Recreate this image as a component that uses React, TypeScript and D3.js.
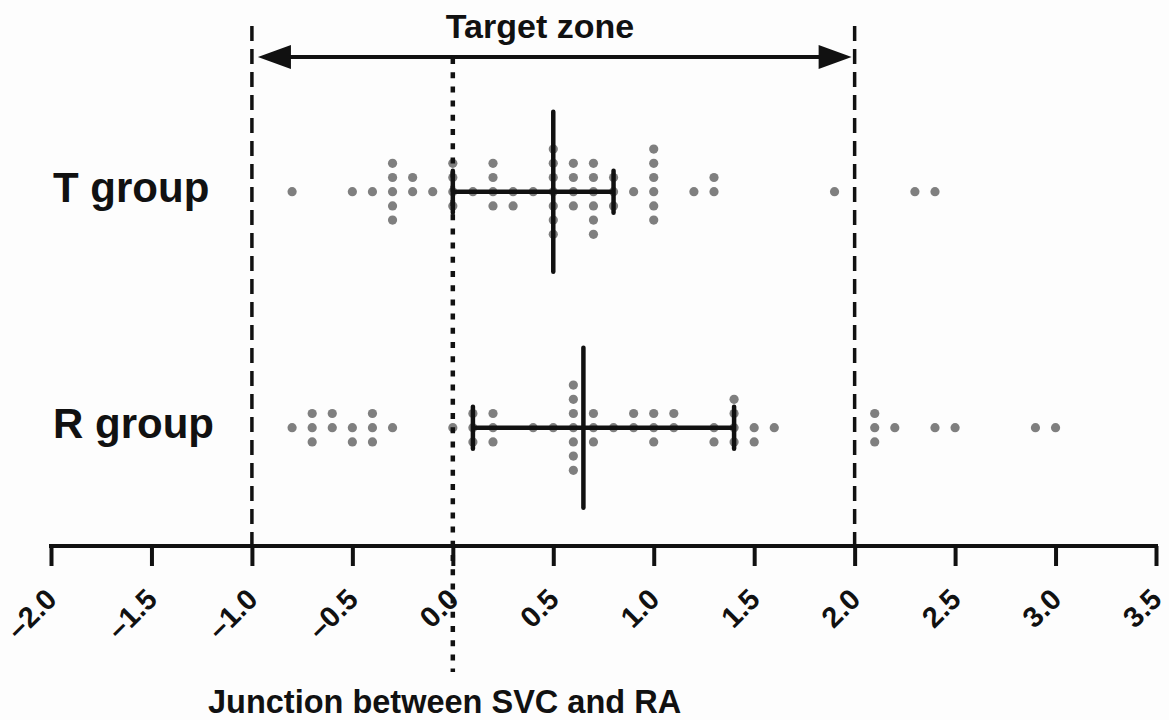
import React, { useRef, useEffect } from 'react';
import * as d3 from 'd3';

// dot values per group (value -> number of patients at that value)
const tValues = [-0.8, -0.5, -0.4, -0.3, -0.2, -0.1, 0, 0.1, 0.2, 0.3, 0.4, 0.5, 0.6, 0.7, 0.8, 0.9, 1.0, 1.2, 1.3, 1.9, 2.3, 2.4];
const tCounts = [1, 1, 1, 5, 2, 1, 4, 1, 4, 2, 1, 7, 4, 6, 3, 1, 6, 1, 2, 1, 1, 1];
const tStackDown = [0.3, 0.7];

const rValues = [-0.8, -0.7, -0.6, -0.5, -0.4, -0.3, 0, 0.1, 0.2, 0.4, 0.5, 0.6, 0.7, 0.8, 0.9, 1.0, 1.1, 1.3, 1.4, 1.5, 1.6, 2.1, 2.2, 2.4, 2.5, 2.9, 3.0];
const rCounts = [1, 3, 2, 2, 3, 1, 1, 3, 3, 1, 1, 7, 3, 1, 2, 3, 2, 2, 4, 2, 1, 3, 1, 1, 1, 1, 1];
const rStackDown = [-0.5, 1.3, 1.5];

// median and interquartile range
const groupNames = ['T group', 'R group'];
const medians = [0.5, 0.65];
const q1s = [0, 0.1];
const q3s = [0.8, 1.4];

const xTicks = [-2.0, -1.5, -1.0, -0.5, 0.0, 0.5, 1.0, 1.5, 2.0, 2.5, 3.0, 3.5];
const targetZone = [-1, 2];
const junction = 0;

const FONT = '"Liberation Sans", Arial, Helvetica, sans-serif';

const buildDots = (values, counts, down) => {
  const dots = [];
  values.forEach((v, i) => {
    const sign = down.includes(v) ? 1 : -1;
    for (let k = 0; k < counts[i]; k++) {
      // 0, -1, +1, -2, +2 ... (up first unless column stacks down)
      const step = Math.ceil(k / 2);
      const row = k === 0 ? 0 : (k % 2 === 1 ? sign * step : -sign * step);
      dots.push({ v, row });
    }
  });
  return dots;
};

const drawChart = (node) => {
  const width = 1169, height = 720;
  const svg = d3.select(node);
  svg.selectAll('*').remove();
  svg.attr('width', width).attr('height', height);

  svg.append('rect').attr('width', width).attr('height', height).attr('fill', '#fdfdfd');

  const x = d3.scaleLinear().domain([-2, 3.5]).range([51, 1156]);
  const y = d3.scalePoint().domain(groupNames).range([191.7, 427.7]);
  const axisY = 546;
  const rowStep = 14.2;

  // dots
  const groups = [
    buildDots(tValues, tCounts, tStackDown),
    buildDots(rValues, rCounts, rStackDown),
  ];
  groups.forEach((dots, gi) => {
    svg.append('g').selectAll('circle').data(dots).enter().append('circle')
      .attr('cx', d => x(d.v))
      .attr('cy', d => y(groupNames[gi]) + d.row * rowStep)
      .attr('r', 4.6)
      .attr('fill', '#7f7f7f');
  });

  // target zone dashed lines
  svg.append('g').selectAll('line').data(targetZone).enter().append('line')
    .attr('x1', d => x(d)).attr('x2', d => x(d))
    .attr('y1', 26).attr('y2', axisY)
    .attr('stroke', '#111').attr('stroke-width', 3.5)
    .attr('stroke-dasharray', '15 8');

  // junction dotted line
  svg.append('line')
    .attr('x1', x(junction)).attr('x2', x(junction))
    .attr('y1', 58).attr('y2', 672)
    .attr('stroke', '#111').attr('stroke-width', 4.5)
    .attr('stroke-dasharray', '6 8.2');

  // arrow
  const ay = 57;
  const x0 = x(targetZone[0]) + 6, x1 = x(targetZone[1]) - 3;
  svg.append('line')
    .attr('x1', x0 + 20).attr('x2', x1 - 20).attr('y1', ay).attr('y2', ay)
    .attr('stroke', '#111').attr('stroke-width', 4);
  svg.append('path')
    .attr('d', `M${x0},${ay} L${x0 + 33},${ay - 12} L${x0 + 33},${ay + 12} Z`)
    .attr('fill', '#111');
  svg.append('path')
    .attr('d', `M${x1},${ay} L${x1 - 33},${ay - 12} L${x1 - 33},${ay + 12} Z`)
    .attr('fill', '#111');

  svg.append('text')
    .attr('x', 540).attr('y', 38)
    .attr('text-anchor', 'middle')
    .attr('font-family', FONT).attr('font-weight', 'bold').attr('font-size', 34)
    .attr('fill', '#111')
    .text('Target zone');

  // median + IQR bars
  groupNames.forEach((g, i) => {
    const cy = y(g);
    const bar = svg.append('g').attr('stroke', '#111').attr('stroke-width', 4.5);
    bar.append('line').attr('x1', x(q1s[i])).attr('x2', x(q3s[i])).attr('y1', cy).attr('y2', cy);
    bar.append('line').attr('x1', x(medians[i])).attr('x2', x(medians[i])).attr('y1', cy - 80).attr('y2', cy + 80)
      .attr('stroke-linecap', 'round');
    [q1s[i], q3s[i]].forEach(q => {
      bar.append('line').attr('x1', x(q)).attr('x2', x(q)).attr('y1', cy - 21).attr('y2', cy + 21)
        .attr('stroke-linecap', 'round');
    });

    svg.append('text')
      .attr('x', 53).attr('y', cy + 10)
      .attr('font-family', FONT).attr('font-weight', 'bold').attr('font-size', 42)
      .attr('fill', '#111')
      .text(g);
  });

  // x axis
  const axis = d3.axisBottom(x).tickValues(xTicks).tickSize(20).tickSizeOuter(0)
    .tickFormat(d => d.toFixed(1).replace('-', '\u2013'));
  const ax = svg.append('g').attr('transform', `translate(0,${axisY})`).call(axis);
  ax.select('.domain').attr('stroke', '#111').attr('stroke-width', 4)
    .attr('d', `M${x(-2) - 2},0H${x(3.5) + 2}`);
  ax.selectAll('.tick line').attr('stroke', '#111').attr('stroke-width', 4);
  ax.selectAll('.tick text')
    .attr('font-family', FONT).attr('font-weight', 'bold').attr('font-size', 29)
    .attr('fill', '#111')
    .attr('text-anchor', 'end')
    .attr('y', 0).attr('dy', 0)
    .attr('transform', 'translate(7,55) rotate(-45)');

  svg.append('text')
    .attr('x', 208).attr('y', 713)
    .attr('font-family', FONT).attr('font-weight', 'bold').attr('font-size', 32.5)
    .attr('fill', '#111')
    .text('Junction between SVC and RA');
};

const App = () => {
  const ref = useRef(null);
  useEffect(() => {
    drawChart(ref.current);
  }, []);

  return (
    <div style={{ position: 'absolute', left: 0, top: 0 }}>
      <svg ref={ref} style={{ display: 'block' }}></svg>
    </div>
  );
};

export default App;
